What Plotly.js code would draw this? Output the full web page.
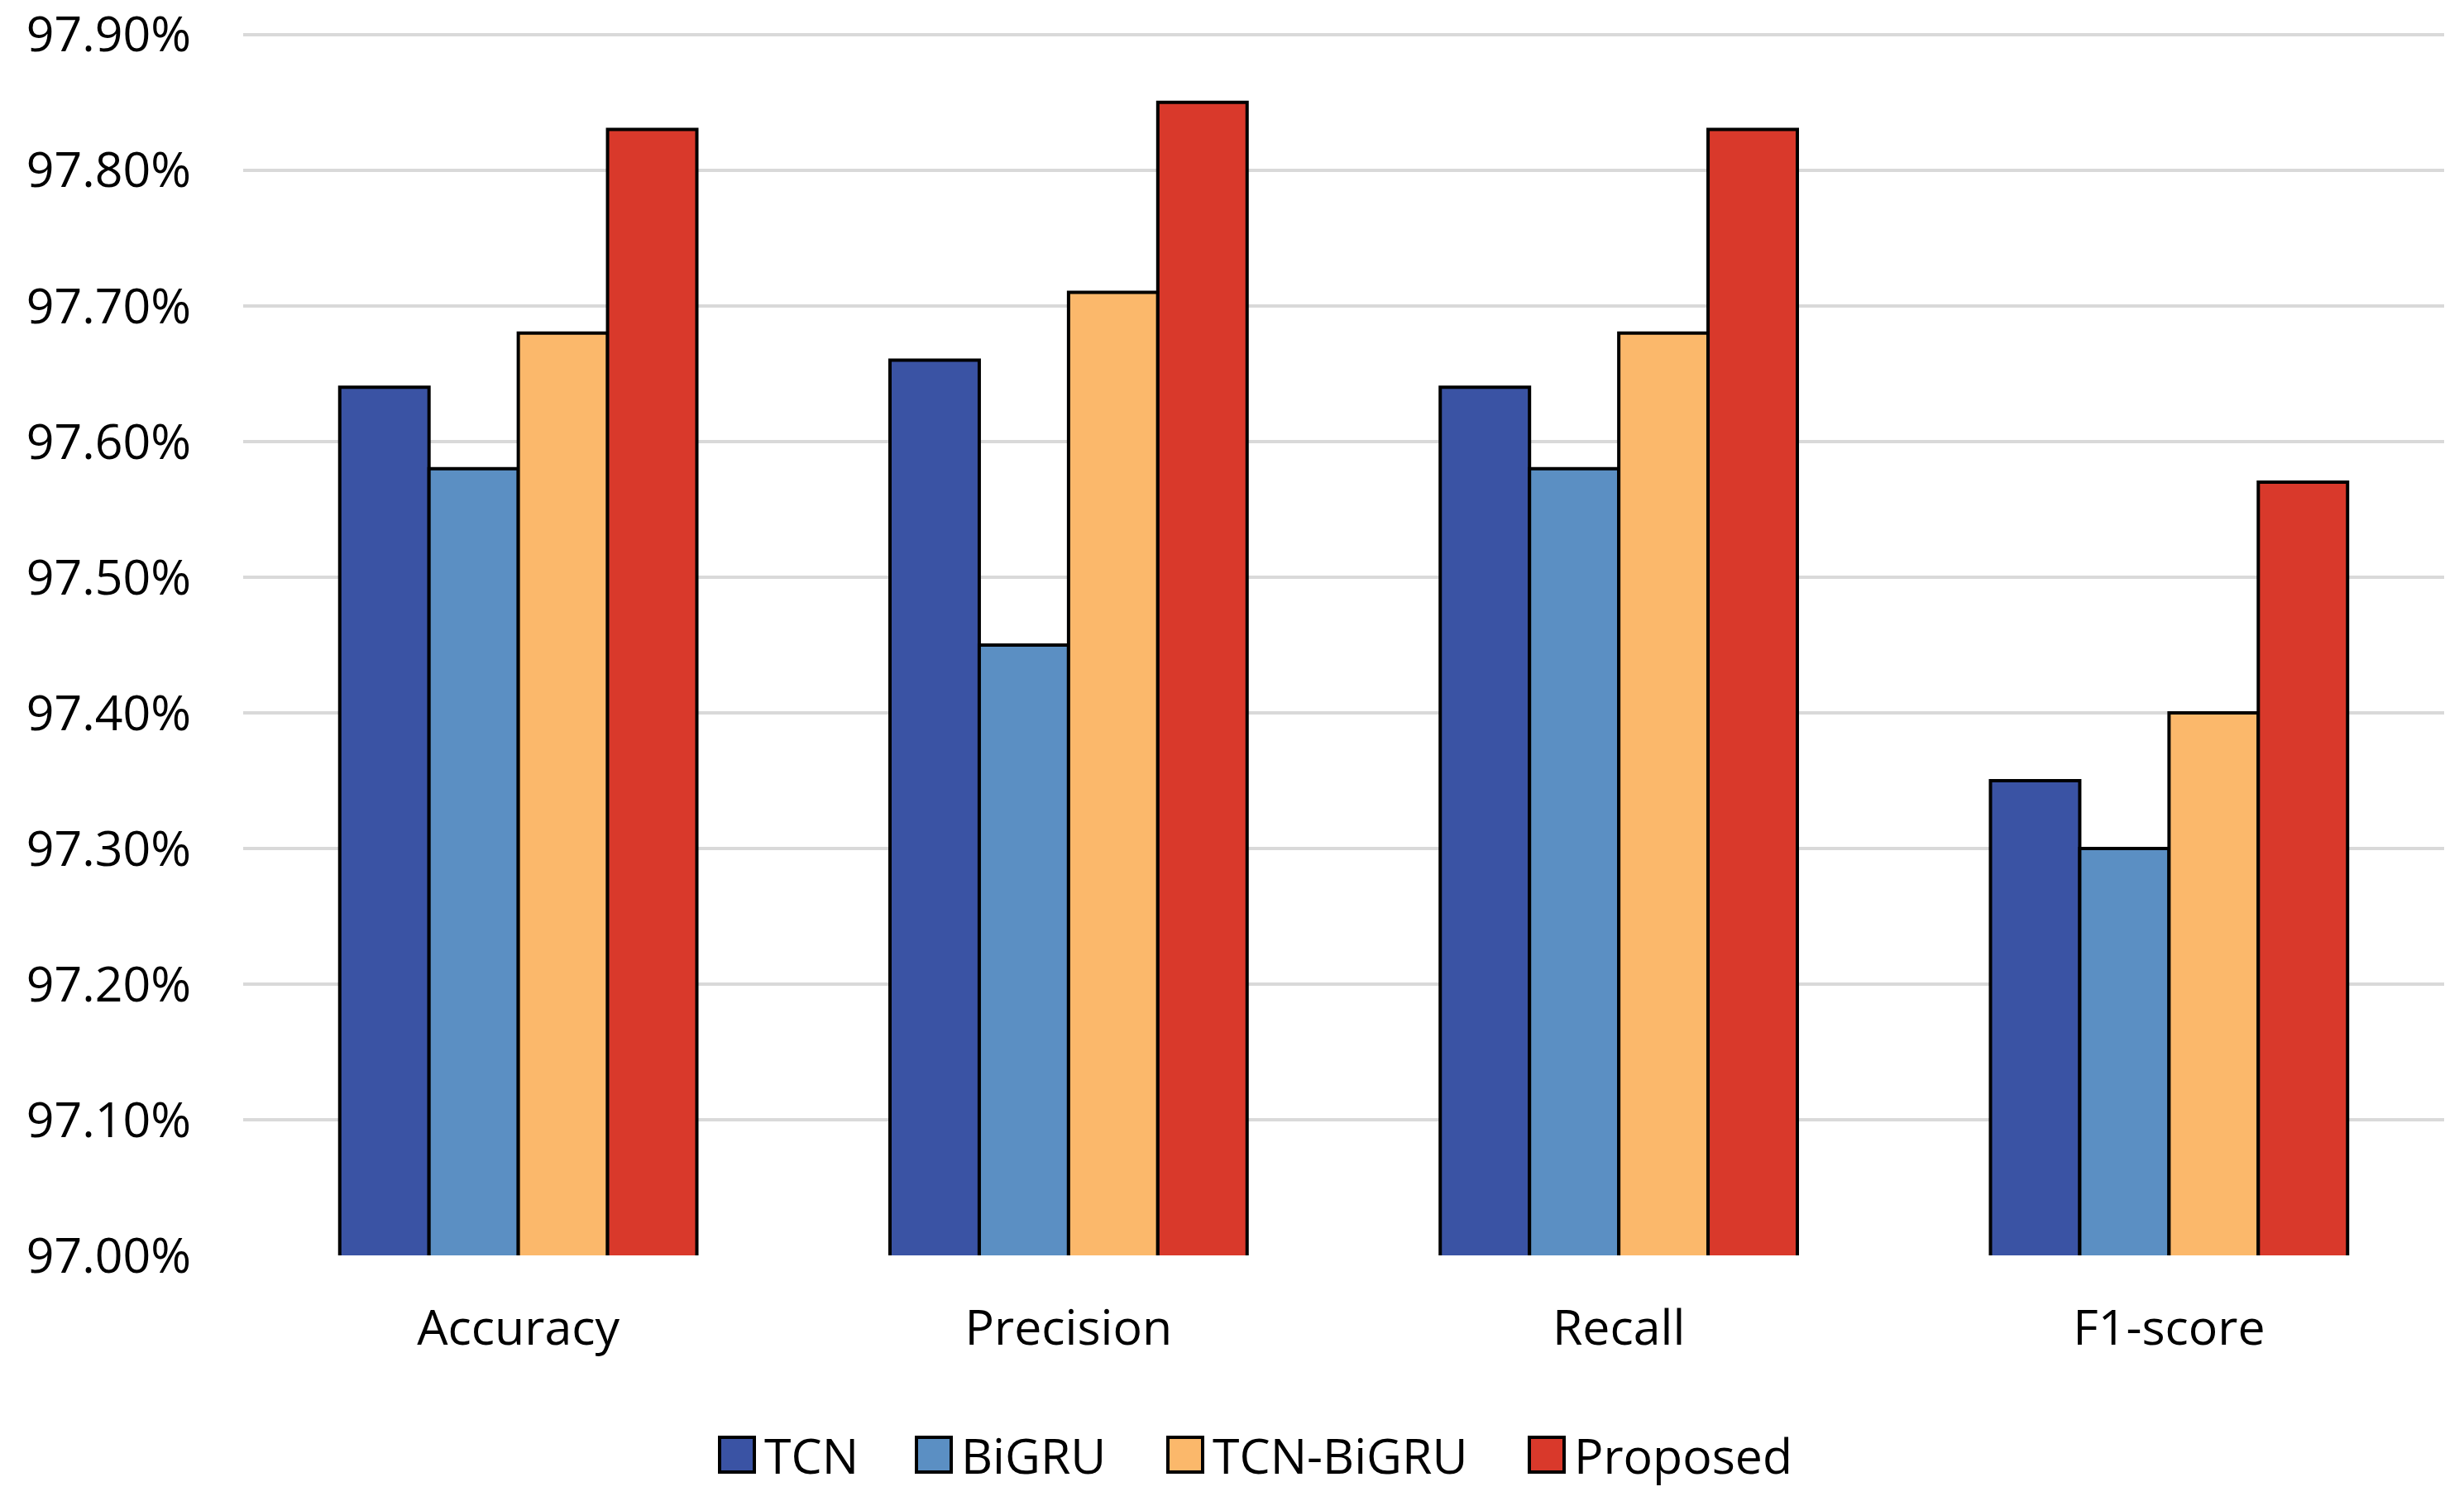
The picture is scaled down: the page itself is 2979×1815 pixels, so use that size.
<!DOCTYPE html>
<html>
<head>
<meta charset="utf-8">
<script src="https://cdn.plot.ly/plotly-3.0.1.min.js"></script>
<style>
  html, body { margin: 0; padding: 0; background: #ffffff; }
  #chart { width: 2979px; height: 1815px; }
</style>
</head>
<body>
<div id="chart"></div>
<script>
// ---- data ----
const categories = ["Accuracy", "Precision", "Recall", "F1-score"];
const seriesNames = ["TCN", "BiGRU", "TCN-BiGRU", "Proposed"];
const tcnValues = [97.64, 97.66, 97.64, 97.35];
const bigruValues = [97.58, 97.45, 97.58, 97.30];
const tcnBigruValues = [97.68, 97.71, 97.68, 97.40];
const proposedValues = [97.83, 97.85, 97.83, 97.57];
const yTickVals = [97.0, 97.1, 97.2, 97.3, 97.4, 97.5, 97.6, 97.7, 97.8, 97.9];
const yTickLabels = ["97.00%", "97.10%", "97.20%", "97.30%", "97.40%", "97.50%", "97.60%", "97.70%", "97.80%", "97.90%"];

// ---- styles ----
const colors = ["#3A53A4", "#5B8FC3", "#FBB86B", "#D9392B"];
const allValues = [tcnValues, bigruValues, tcnBigruValues, proposedValues];
const FONT = "Open Sans, Noto Sans, sans-serif";
const W = 2979, H = 1815;
const M = { l: 294, r: 24, t: 9, b: 297 };
const PW = W - M.l - M.r, PH = H - M.t - M.b;
const px2x = px => (px - M.l) / PW;
const py2y = py => (H - M.b - py) / PH;

const traces = seriesNames.map((name, i) => ({
  type: "bar",
  name: name,
  x: categories,
  y: allValues[i],
  base: 0,
  marker: { color: colors[i], line: { color: "#000000", width: 4 } },
  showlegend: false,
  hoverinfo: "x+y+name"
}));

// custom legend (large swatches like the reference)
const legendSwatchX = [870, 1108, 1412, 1849];
const swatch = 42, legendY = 1759;
const shapes = [], annotations = [];
seriesNames.forEach((name, i) => {
  const x0 = legendSwatchX[i];
  shapes.push({
    type: "rect", xref: "paper", yref: "paper",
    x0: px2x(x0), x1: px2x(x0 + swatch),
    y0: py2y(legendY + swatch / 2), y1: py2y(legendY - swatch / 2),
    fillcolor: colors[i], line: { color: "#000000", width: 4 }
  });
  annotations.push({
    xref: "paper", yref: "paper",
    x: px2x(x0 + swatch + 10), y: py2y(legendY),
    xanchor: "left", yanchor: "middle",
    text: name, showarrow: false,
    font: { family: FONT, size: 59, color: "#000000" }
  });
});

const layout = {
  width: W, height: H,
  margin: M,
  paper_bgcolor: "#ffffff",
  plot_bgcolor: "#ffffff",
  barmode: "group",
  bargap: 0.351,
  bargroupgap: 0,
  showlegend: false,
  font: { family: FONT, size: 59, color: "#000000" },
  xaxis: {
    type: "category",
    showgrid: false,
    showline: false,
    zeroline: false,
    ticks: "",
    ticklabelstandoff: 48,
    tickfont: { family: FONT, size: 59, color: "#000000" }
  },
  yaxis: {
    range: [97.0, 97.92],
    tickmode: "array",
    tickvals: yTickVals,
    ticktext: yTickLabels,
    showgrid: true,
    gridcolor: "#D9D9D9",
    gridwidth: 4,
    zeroline: false,
    showline: false,
    ticks: "",
    ticklabelstandoff: 62,
    ticklabeloverflow: "allow",
    tickfont: { family: FONT, size: 59, color: "#000000" }
  },
  shapes: shapes,
  annotations: annotations
};

Plotly.newPlot("chart", traces, layout, { displayModeBar: false, staticPlot: true });
</script>
</body>
</html>
